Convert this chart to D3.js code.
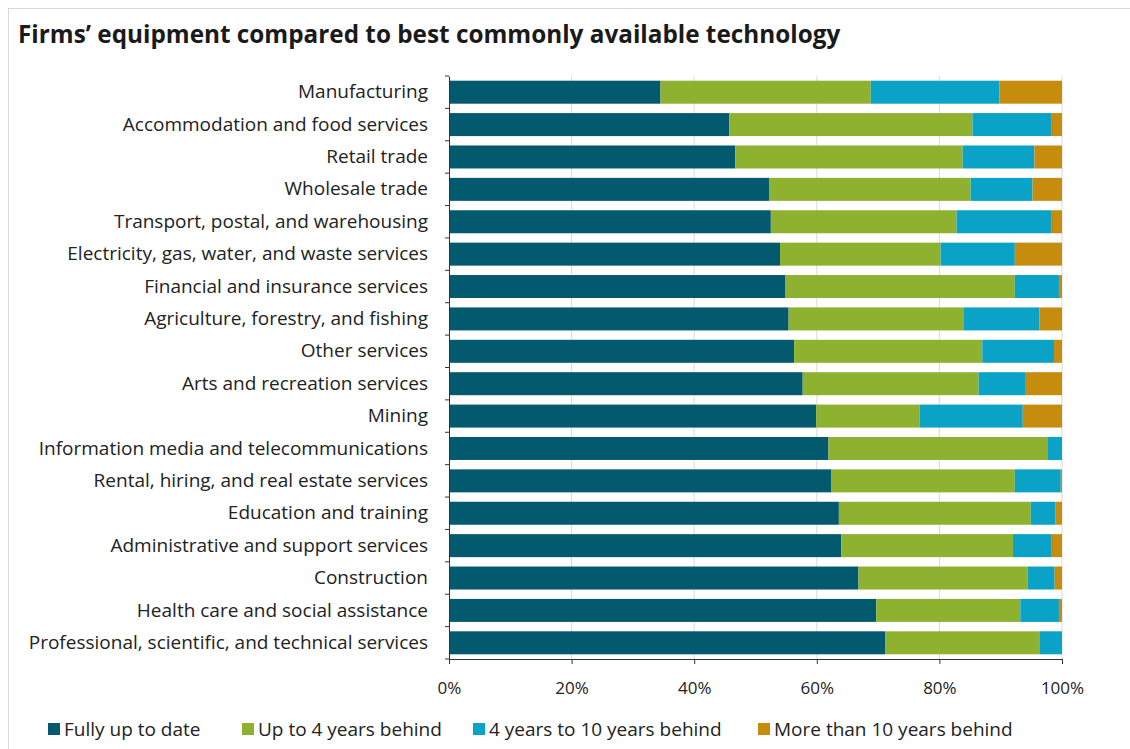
<!DOCTYPE html>
<html>
<head>
<meta charset="utf-8">
<script src="https://cdn.jsdelivr.net/npm/d3@7"></script>
<style>
  body { margin: 0; background: #fff; }
  svg { display: block; }
</style>
</head>
<body>
<script>
const categories = [
  'Manufacturing',
  'Accommodation and food services',
  'Retail trade',
  'Wholesale trade',
  'Transport, postal, and warehousing',
  'Electricity, gas, water, and waste services',
  'Financial and insurance services',
  'Agriculture, forestry, and fishing',
  'Other services',
  'Arts and recreation services',
  'Mining',
  'Information media and telecommunications',
  'Rental, hiring, and real estate services',
  'Education and training',
  'Administrative and support services',
  'Construction',
  'Health care and social assistance',
  'Professional, scientific, and technical services'
];
const seriesNames = ['Fully up to date', 'Up to 4 years behind', '4 years to 10 years behind', 'More than 10 years behind'];
const fullyUpToDate = [34.5, 45.7, 46.7, 52.2, 52.5, 54.0, 54.9, 55.4, 56.3, 57.7, 59.9, 61.9, 62.4, 63.6, 64.0, 66.8, 69.7, 71.2];
const upTo4Years    = [34.3, 39.7, 37.1, 32.9, 30.3, 26.2, 37.4, 28.6, 30.7, 28.7, 16.9, 35.7, 29.9, 31.3, 28.0, 27.6, 23.5, 25.2];
const from4To10     = [21.0, 12.8, 11.7, 10.1, 15.4, 12.1,  7.2, 12.3, 11.7,  7.7, 16.8,  2.4,  7.5,  4.0,  6.2,  4.4,  6.3,  3.6];
const over10Years   = [10.2,  1.8,  4.5,  4.8,  1.8,  7.7,  0.5,  3.7,  1.3,  5.9,  6.4,  0.0,  0.2,  1.1,  1.8,  1.2,  0.5,  0.0];
const xTicks = [0, 20, 40, 60, 80, 100];
const colors = ['#03596e', '#8eb12f', '#0aa2c6', '#c68c0e'];

const W = 1130, H = 749;
const margin = { left: 449, right: 68, top: 76, bottom: 90 };
const font = 'Open Sans, sans-serif';

const rows = categories.map((c, i) => ({
  cat: c,
  [seriesNames[0]]: fullyUpToDate[i],
  [seriesNames[1]]: upTo4Years[i],
  [seriesNames[2]]: from4To10[i],
  [seriesNames[3]]: over10Years[i]
}));

const svg = d3.select('body').append('svg')
  .attr('width', W)
  .attr('height', H);

svg.append('rect')
  .attr('x', 8.5).attr('y', 8.5)
  .attr('width', W).attr('height', H)
  .attr('fill', 'none')
  .attr('stroke', '#d9d9d9');

svg.append('text')
  .attr('x', 18).attr('y', 43)
  .attr('font-family', font)
  .attr('font-weight', 700)
  .attr('font-size', 24.3)
  .attr('fill', '#1a1a1a')
  .text('Firms\u2019 equipment compared to best commonly available technology');

const x = d3.scaleLinear().domain([0, 100]).range([margin.left, W - margin.right]);
const y = d3.scaleBand().domain(categories).range([margin.top, H - margin.bottom]).paddingInner(0.29).paddingOuter(0.145);

// gridlines
svg.append('g')
  .selectAll('line')
  .data(xTicks.slice(1))
  .join('line')
  .attr('x1', d => x(d)).attr('x2', d => x(d))
  .attr('y1', margin.top).attr('y2', H - margin.bottom)
  .attr('stroke', '#d9d9d9');

const stacked = d3.stack().keys(seriesNames)(rows);

svg.append('g')
  .selectAll('g')
  .data(stacked)
  .join('g')
  .attr('fill', (d, i) => colors[i])
  .selectAll('rect')
  .data(d => d)
  .join('rect')
  .attr('x', d => x(d[0]))
  .attr('width', d => x(d[1]) - x(d[0]))
  .attr('y', d => y(d.data.cat))
  .attr('height', y.bandwidth());

// x axis
const xAxis = svg.append('g')
  .attr('transform', `translate(0,${H - margin.bottom})`)
  .call(d3.axisBottom(x).tickValues(xTicks).tickFormat(d => d + '%').tickSize(5).tickPadding(18));
xAxis.select('.domain').attr('stroke', '#333');
xAxis.selectAll('.tick line').attr('stroke', '#333');
xAxis.selectAll('text')
  .attr('font-family', font)
  .attr('font-size', 17)
  .attr('fill', '#222');

// y axis
const yAxis = svg.append('g')
  .attr('transform', `translate(${margin.left},0)`)
  .call(d3.axisLeft(y).tickSize(0).tickPadding(21));
yAxis.select('.domain').attr('stroke', '#333');
yAxis.selectAll('text')
  .attr('font-family', font)
  .attr('font-size', 19)
  .attr('fill', '#222');

// small ticks at category boundaries
const bounds = categories.map(c => y(c) - y.step() * y.paddingInner() / 2).concat([H - margin.bottom]);
svg.append('g')
  .selectAll('line')
  .data(bounds)
  .join('line')
  .attr('x1', margin.left - 4).attr('x2', margin.left)
  .attr('y1', d => d).attr('y2', d => d)
  .attr('stroke', '#333');

// legend
const legendX = [48, 242, 473, 758];
const legend = svg.append('g')
  .selectAll('g')
  .data(seriesNames)
  .join('g')
  .attr('transform', (d, i) => `translate(${legendX[i]},729)`);
legend.append('rect')
  .attr('x', 0).attr('y', -6)
  .attr('width', 12).attr('height', 12)
  .attr('fill', (d, i) => colors[i]);
legend.append('text')
  .attr('x', 16).attr('y', 0)
  .attr('dy', '0.35em')
  .attr('font-family', font)
  .attr('font-size', 19)
  .attr('fill', '#222')
  .text(d => d);
</script>
</body>
</html>
